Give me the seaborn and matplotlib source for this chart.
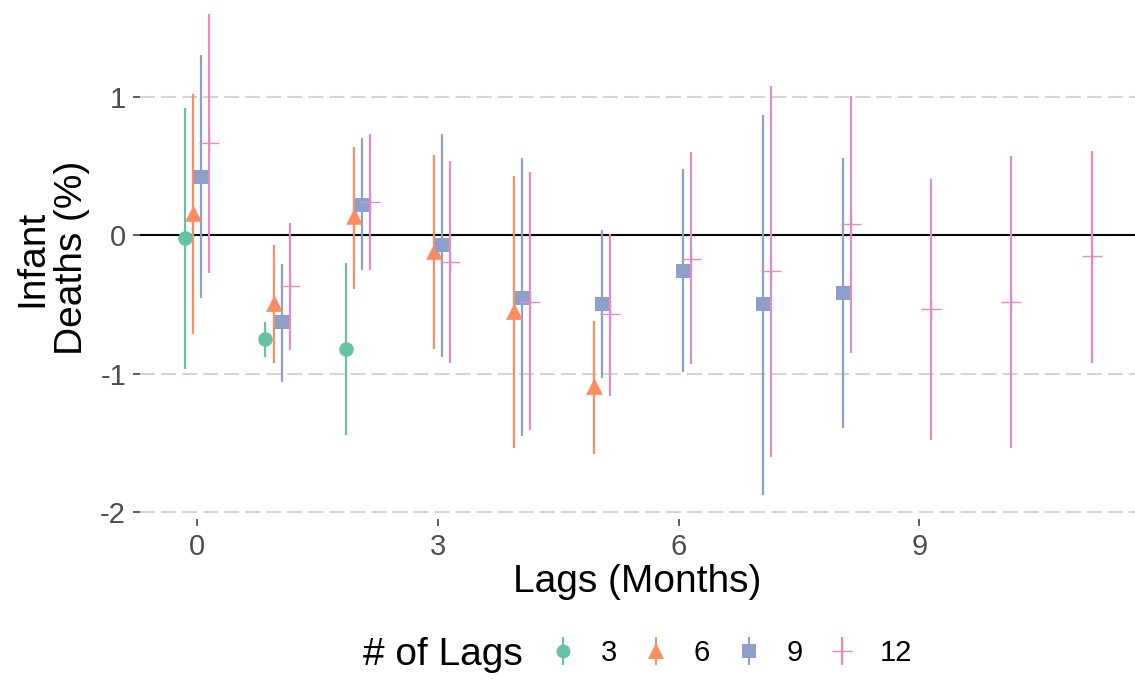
import numpy as np
import pandas as pd
import matplotlib
matplotlib.use("Agg")
import matplotlib.pyplot as plt
from matplotlib.lines import Line2D
from matplotlib.legend_handler import HandlerTuple
import seaborn as sns

# Distributed-lag estimates (percent change) with 95% intervals, per model size
lag_sets = ["3", "6", "9", "12"]

lags_3 = [0, 1, 2]
est_3 = [-0.02, -0.75, -0.82]
lo_3 = [-0.97, -0.88, -1.44]
hi_3 = [0.92, -0.63, -0.20]

lags_6 = [0, 1, 2, 3, 4, 5]
est_6 = [0.16, -0.49, 0.14, -0.11, -0.55, -1.09]
lo_6 = [-0.71, -0.92, -0.39, -0.82, -1.54, -1.58]
hi_6 = [1.02, -0.07, 0.64, 0.58, 0.43, -0.62]

lags_9 = [0, 1, 2, 3, 4, 5, 6, 7, 8]
est_9 = [0.42, -0.63, 0.22, -0.07, -0.45, -0.50, -0.26, -0.50, -0.42]
lo_9 = [-0.45, -1.06, -0.25, -0.88, -1.45, -1.03, -0.99, -1.88, -1.39]
hi_9 = [1.30, -0.21, 0.70, 0.73, 0.56, 0.04, 0.48, 0.87, 0.56]

lags_12 = [0, 1, 2, 3, 4, 5, 6, 7, 8, 9, 10, 11]
est_12 = [0.67, -0.37, 0.24, -0.19, -0.48, -0.57, -0.17, -0.26, 0.08, -0.53, -0.48, -0.15]
lo_12 = [-0.27, -0.83, -0.25, -0.92, -1.41, -1.16, -0.93, -1.60, -0.85, -1.48, -1.54, -0.92]
hi_12 = [1.60, 0.09, 0.73, 0.54, 0.46, 0.01, 0.60, 1.08, 1.01, 0.41, 0.57, 0.61]

x_ticks = [0, 3, 6, 9]
y_ticks = [-2, -1, 0, 1]

frames = []
for name, lg, e, lo, hi in [
    ("3", lags_3, est_3, lo_3, hi_3),
    ("6", lags_6, est_6, lo_6, hi_6),
    ("9", lags_9, est_9, lo_9, hi_9),
    ("12", lags_12, est_12, lo_12, hi_12),
]:
    frames.append(pd.DataFrame({"series": name, "lag": lg, "est": e, "lo": lo, "hi": hi}))
df = pd.concat(frames, ignore_index=True)

# dodge the four models side by side around each lag
dodge = dict(zip(lag_sets, [-0.15, -0.05, 0.05, 0.15]))
df["x"] = df["lag"] + df["series"].map(dodge)

sns.set_theme(style="white")
plt.rcParams["font.family"] = ["Liberation Sans", "DejaVu Sans"]
plt.rcParams["axes.unicode_minus"] = False
plt.rcParams["text.color"] = "black"

palette = dict(zip(lag_sets, sns.color_palette("Set2", 4)))
markers = {"3": "o", "6": "^", "9": "s", "12": "+"}
sizes = {"3": 110, "6": 145, "9": 110, "12": 225}

fig = plt.figure(figsize=(11.35, 6.79), dpi=100)
ax = fig.add_axes([0.1233, 0.2352, 0.8767, 0.7648])

for name in lag_sets:
    sub = df[df["series"] == name]
    c = palette[name]
    ax.vlines(sub["x"], sub["lo"], sub["hi"], color=c, lw=1.6, zorder=3)
    if markers[name] == "+":
        sns.scatterplot(data=sub, x="x", y="est", marker="+", color=c,
                        s=sizes[name], linewidth=1.0, ax=ax, zorder=4, legend=False)
    else:
        sns.scatterplot(data=sub, x="x", y="est", marker=markers[name], color=c,
                        s=sizes[name], linewidth=0, ax=ax, zorder=4, legend=False)

ax.axhline(0, color="black", lw=1.5, zorder=2)

ax.set_xlim(-0.715, 11.69)
ax.set_ylim(-2.053, 1.701)
ax.set_xticks(x_ticks)
ax.set_yticks(y_ticks)
ax.set_yticklabels([str(v) for v in y_ticks])
ax.grid(False)
for v in y_ticks:
    if v != 0:
        ax.axhline(v, color="#d4d4d4", lw=1.5, ls=(0, (7.2, 2.9)), zorder=1)
for s in ax.spines.values():
    s.set_visible(False)
ax.tick_params(axis="both", which="major", length=5, width=1.1, color="#333333",
               labelsize=21, labelcolor="#4d4d4d", pad=5, bottom=True, left=True)

ax.set_xlabel("Lags (Months)", fontsize=28, color="black", labelpad=2)
ax.set_ylabel("")
fig.text(52 / 1135, 1 - 258 / 679, "Infant\nDeaths (%)", rotation=90, ha="center",
         va="center", multialignment="center", fontsize=28, linespacing=1.15,
         color="black")

# legend row: title to the left of the keys
fig.text(363 / 1135, 1 - 655 / 679, "# of Lags", ha="left", va="center", fontsize=28,
         color="black")
handles = []
for name in lag_sets:
    c = palette[name]
    bar = Line2D([], [], marker="|", color=c, ls="", markersize=19.5, markeredgewidth=1.5)
    if markers[name] == "+":
        pt = Line2D([], [], marker="+", color=c, ls="", markersize=15, markeredgewidth=1.0)
    else:
        ms = {"o": 10, "^": 12, "s": 10}[markers[name]]
        pt = Line2D([], [], marker=markers[name], color=c, ls="", markersize=ms,
                    markeredgewidth=0)
    handles.append((bar, pt))
fig.legend(handles, lag_sets, handler_map={tuple: HandlerTuple(ndivide=1)},
           loc="center left", bbox_to_anchor=(548 / 1135, 1 - 653 / 679), ncol=4,
           frameon=False, fontsize=21, handlelength=1.0, handletextpad=0.8,
           columnspacing=0.84, borderpad=0, borderaxespad=0, labelcolor="black")

fig.savefig("out.png", dpi=100)
